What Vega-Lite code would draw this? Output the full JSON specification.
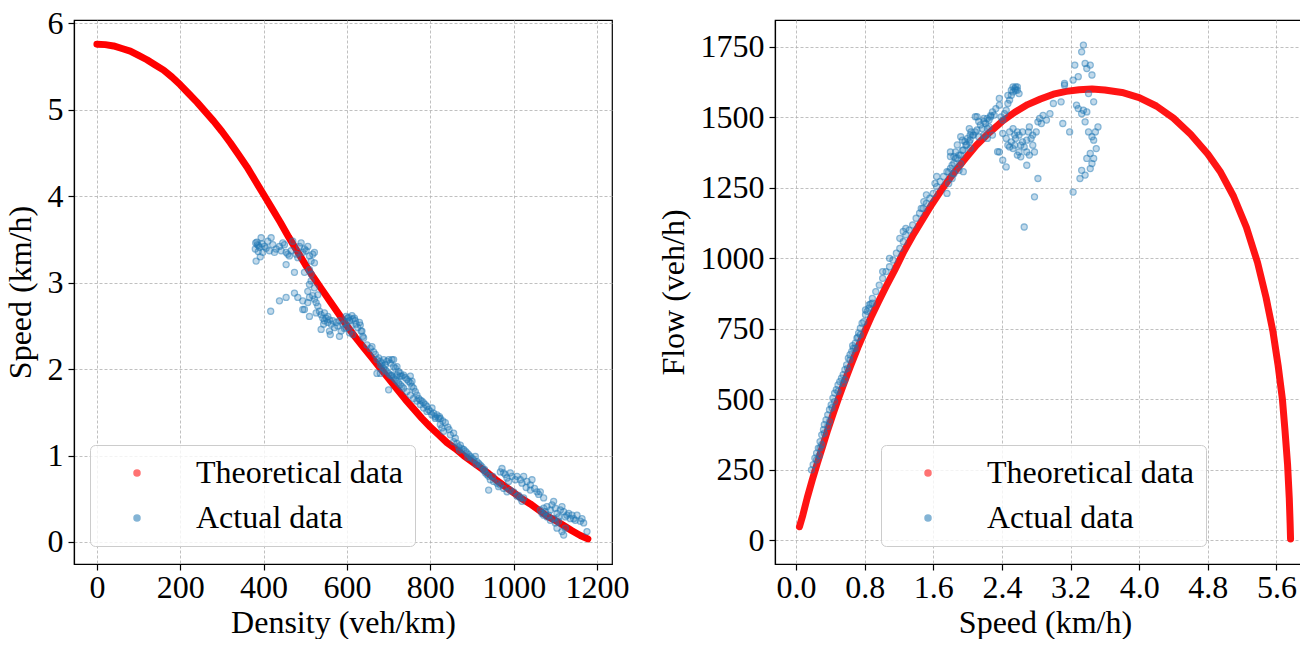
{
  "$schema": "https://vega.github.io/schema/vega-lite/v6.json",
  "background": "white",
  "padding": {"left": 3, "top": 6, "right": 0, "bottom": 0},
  "bounds": "flush",
  "spacing": 163,
  "config": {
    "font": "Liberation Serif",
    "view": {"stroke": "black", "strokeWidth": 1.2},
    "axis": {
      "labelFont": "Liberation Serif", "labelFontSize": 32, "labelColor": "black",
      "titleFont": "Liberation Serif", "titleFontSize": 32, "titleFontWeight": "normal", "titleColor": "black",
      "domainColor": "black", "domainWidth": 1.2, "tickColor": "black", "tickSize": 6, "tickWidth": 1.2,
      "gridColor": "#b0b0b0", "gridDash": [3, 2], "gridWidth": 0.8,
      "labelFlush": false, "labelOverlap": false
    },
    "axisX": {"labelPadding": 2, "titlePadding": 4},
    "axisY": {"labelPadding": 5, "titlePadding": 10},
    "legend": {
      "title": null, "labelFont": "Liberation Serif", "labelFontSize": 32, "labelColor": "black", "labelLimit": 400,
      "symbolType": "circle", "symbolSize": 36, "symbolStrokeWidth": 1.5, "padding": 12, "symbolOffset": 19, "labelOffset": 43, "rowPadding": 13,
      "fillColor": "rgba(255,255,255,0.8)", "strokeColor": "#cccccc", "cornerRadius": 5
    }
  },
  "resolve": {"scale": {"fill": "independent", "stroke": "independent"}, "legend": {"fill": "independent", "stroke": "independent"}},
  "datasets": {
    "leftTheory": [
      {"density":0,"speed":5.76},{"density":20,"speed":5.755},{"density":40,"speed":5.74},{"density":60,"speed":5.71},{"density":80,"speed":5.68},{"density":100,"speed":5.63},{"density":120,"speed":5.58},{"density":140,"speed":5.52},{"density":160,"speed":5.46},{"density":180,"speed":5.38},{"density":200,"speed":5.29},{"density":220,"speed":5.19},{"density":240,"speed":5.09},{"density":260,"speed":4.98},{"density":280,"speed":4.87},{"density":300,"speed":4.75},{"density":320,"speed":4.62},{"density":340,"speed":4.48},{"density":360,"speed":4.34},{"density":380,"speed":4.18},{"density":400,"speed":4.02},{"density":420,"speed":3.86},{"density":440,"speed":3.70},{"density":460,"speed":3.53},{"density":480,"speed":3.37},{"density":500,"speed":3.21},{"density":520,"speed":3.06},{"density":540,"speed":2.92},{"density":560,"speed":2.78},{"density":580,"speed":2.64},{"density":600,"speed":2.50},{"density":620,"speed":2.37},{"density":640,"speed":2.25},{"density":660,"speed":2.13},{"density":680,"speed":2.01},{"density":700,"speed":1.89},{"density":720,"speed":1.77},{"density":740,"speed":1.65},{"density":760,"speed":1.54},{"density":780,"speed":1.43},{"density":800,"speed":1.33},{"density":820,"speed":1.24},{"density":840,"speed":1.15},{"density":860,"speed":1.08},{"density":880,"speed":1.00},{"density":900,"speed":0.93},{"density":920,"speed":0.86},{"density":940,"speed":0.79},{"density":960,"speed":0.71},{"density":980,"speed":0.64},{"density":1000,"speed":0.57},{"density":1020,"speed":0.50},{"density":1040,"speed":0.44},{"density":1060,"speed":0.37},{"density":1080,"speed":0.30},{"density":1100,"speed":0.25},{"density":1120,"speed":0.19},{"density":1140,"speed":0.13},{"density":1160,"speed":0.075},{"density":1178,"speed":0.035}
    ],
    "leftActual": [
      {"density":381,"speed":3.46},{"density":385,"speed":3.44},{"density":380,"speed":3.39},{"density":390,"speed":3.41},{"density":394,"speed":3.52},{"density":398,"speed":3.35},{"density":402,"speed":3.42},{"density":410,"speed":3.48},{"density":414,"speed":3.37},{"density":418,"speed":3.52},{"density":422,"speed":3.44},{"density":426,"speed":3.35},{"density":430,"speed":3.39},{"density":438,"speed":3.42},{"density":442,"speed":3.37},{"density":446,"speed":3.46},{"density":450,"speed":3.44},{"density":454,"speed":3.35},{"density":458,"speed":3.33},{"density":462,"speed":3.31},{"density":466,"speed":3.37},{"density":470,"speed":3.48},{"density":478,"speed":3.33},{"density":482,"speed":3.29},{"density":486,"speed":3.42},{"density":490,"speed":3.46},{"density":494,"speed":3.35},{"density":498,"speed":3.39},{"density":502,"speed":3.37},{"density":506,"speed":3.42},{"density":510,"speed":3.31},{"density":514,"speed":3.25},{"density":518,"speed":3.33},{"density":522,"speed":3.35},{"density":522,"speed":3.23},{"density":382,"speed":3.25},{"density":454,"speed":3.21},{"density":474,"speed":3.12},{"density":498,"speed":3.12},{"density":510,"speed":3.15},{"density":514,"speed":3.10},{"density":384,"speed":3.47},{"density":388,"speed":3.43},{"density":396,"speed":3.45},{"density":406,"speed":3.40},{"density":392,"speed":3.30},{"density":387,"speed":3.36},
      {"density":417,"speed":2.67},{"density":438,"speed":2.79},{"density":454,"speed":2.83},{"density":474,"speed":2.88},{"density":482,"speed":2.83},{"density":494,"speed":2.79},{"density":498,"speed":2.69},{"density":506,"speed":2.90},{"density":510,"speed":2.98},{"density":510,"speed":2.83},{"density":514,"speed":3.02},{"density":518,"speed":2.85},{"density":522,"speed":2.81},{"density":526,"speed":2.77},{"density":530,"speed":2.73},{"density":534,"speed":2.67},{"density":538,"speed":2.63},{"density":542,"speed":2.59},{"density":546,"speed":2.56},{"density":550,"speed":2.59},{"density":554,"speed":2.54},{"density":558,"speed":2.57},{"density":562,"speed":2.52},{"density":566,"speed":2.56},{"density":574,"speed":2.54},{"density":578,"speed":2.50},{"density":582,"speed":2.56},{"density":538,"speed":2.46},{"density":558,"speed":2.44},{"density":582,"speed":2.38},{"density":530,"speed":2.86},{"density":522,"speed":2.94},{"density":506,"speed":2.77},{"density":494,"speed":2.69},{"density":526,"speed":2.65},{"density":510,"speed":2.61},{"density":546,"speed":2.65},{"density":554,"speed":2.61},
      {"density":598,"speed":2.61},{"density":602,"speed":2.59},{"density":606,"speed":2.56},{"density":614,"speed":2.58},{"density":618,"speed":2.59},{"density":622,"speed":2.52},{"density":626,"speed":2.48},{"density":630,"speed":2.54},{"density":634,"speed":2.44},{"density":638,"speed":2.38},{"density":598,"speed":2.48},{"density":606,"speed":2.42},{"density":614,"speed":2.40},{"density":590,"speed":2.52},{"density":594,"speed":2.47},{"density":610,"speed":2.50},{"density":600,"speed":2.55},{"density":604,"speed":2.60},{"density":612,"speed":2.62},{"density":620,"speed":2.56},{"density":570,"speed":2.48},{"density":586,"speed":2.44},{"density":544,"speed":2.52},{"density":560,"speed":2.40},
      {"density":632,"speed":2.51},{"density":636,"speed":2.44},{"density":640,"speed":2.36},{"density":648,"speed":2.28},{"density":656,"speed":2.24},{"density":660,"speed":2.26},{"density":664,"speed":2.20},{"density":668,"speed":2.17},{"density":672,"speed":2.11},{"density":676,"speed":2.13},{"density":680,"speed":2.09},{"density":684,"speed":2.07},{"density":688,"speed":2.11},{"density":692,"speed":2.05},{"density":696,"speed":2.09},{"density":700,"speed":2.11},{"density":704,"speed":2.07},{"density":708,"speed":2.11},{"density":712,"speed":2.11},{"density":712,"speed":2.03},{"density":716,"speed":2.01},{"density":720,"speed":2.03},{"density":724,"speed":1.97},{"density":728,"speed":1.95},{"density":732,"speed":1.92},{"density":736,"speed":1.93},{"density":740,"speed":1.90},{"density":744,"speed":1.88},{"density":748,"speed":1.86},{"density":752,"speed":1.84},{"density":752,"speed":1.92},{"density":756,"speed":1.80},{"density":760,"speed":1.78},{"density":764,"speed":1.74},{"density":768,"speed":1.70},{"density":772,"speed":1.66},{"density":776,"speed":1.64},{"density":780,"speed":1.63},{"density":784,"speed":1.61},{"density":788,"speed":1.59},{"density":792,"speed":1.57},{"density":796,"speed":1.53},{"density":800,"speed":1.51},{"density":804,"speed":1.55},{"density":808,"speed":1.49},{"density":812,"speed":1.45},{"density":816,"speed":1.47},{"density":820,"speed":1.43},
      {"density":700,"speed":1.76},{"density":672,"speed":1.95},{"density":680,"speed":1.95},{"density":756,"speed":1.86},{"density":708,"speed":1.93},{"density":720,"speed":1.93},{"density":728,"speed":1.92},
      {"density":680,"speed":2.05},{"density":684,"speed":2.03},{"density":688,"speed":2.01},{"density":692,"speed":1.99},{"density":696,"speed":1.97},{"density":700,"speed":1.95},{"density":704,"speed":1.93},{"density":708,"speed":1.92},{"density":712,"speed":1.90},{"density":716,"speed":1.88},{"density":720,"speed":1.86},{"density":724,"speed":1.84},{"density":728,"speed":1.82},{"density":732,"speed":1.80},{"density":736,"speed":1.78},{"density":744,"speed":1.74},{"density":752,"speed":1.70},{"density":760,"speed":1.66},{"density":768,"speed":1.63},{"density":776,"speed":1.59},{"density":784,"speed":1.55},{"density":792,"speed":1.51},{"density":804,"speed":1.47},{"density":812,"speed":1.43},
      {"density":822,"speed":1.45},{"density":830,"speed":1.40},{"density":836,"speed":1.38},{"density":842,"speed":1.33},{"density":845,"speed":1.30},
      {"density":824,"speed":1.43},{"density":824,"speed":1.36},{"density":828,"speed":1.32},{"density":832,"speed":1.28},{"density":848,"speed":1.24},{"density":856,"speed":1.26},{"density":860,"speed":1.20},{"density":856,"speed":1.16},{"density":864,"speed":1.14},{"density":868,"speed":1.10},{"density":872,"speed":1.12},{"density":876,"speed":1.08},{"density":880,"speed":1.07},{"density":884,"speed":1.05},{"density":888,"speed":1.03},{"density":892,"speed":1.01},{"density":896,"speed":0.99},{"density":900,"speed":0.97},{"density":904,"speed":0.95},{"density":908,"speed":0.99},{"density":912,"speed":0.93},{"density":916,"speed":0.91},{"density":920,"speed":0.89},{"density":924,"speed":0.87},{"density":928,"speed":0.83},{"density":932,"speed":0.80},{"density":936,"speed":0.78},{"density":940,"speed":0.76},{"density":944,"speed":0.72},{"density":940,"speed":0.60},{"density":952,"speed":0.70},{"density":960,"speed":0.68},{"density":964,"speed":0.64},{"density":968,"speed":0.81},{"density":972,"speed":0.85},{"density":976,"speed":0.80},{"density":980,"speed":0.78},{"density":984,"speed":0.74},{"density":988,"speed":0.70},{"density":992,"speed":0.80},{"density":996,"speed":0.76},{"density":1004,"speed":0.72},{"density":1008,"speed":0.76},{"density":1016,"speed":0.72},{"density":1020,"speed":0.68},{"density":1024,"speed":0.76},{"density":1032,"speed":0.70},{"density":1040,"speed":0.66},{"density":1044,"speed":0.72},{"density":1056,"speed":0.58},{"density":1064,"speed":0.58},{"density":1072,"speed":0.51},{"density":968,"speed":0.66},{"density":976,"speed":0.62},{"density":984,"speed":0.58},{"density":992,"speed":0.60},{"density":1000,"speed":0.58},{"density":1012,"speed":0.54},{"density":1016,"speed":0.51},{"density":1020,"speed":0.47},{"density":1024,"speed":0.51},{"density":1008,"speed":0.53},
      {"density":1064,"speed":0.37},{"density":1068,"speed":0.33},{"density":1072,"speed":0.39},{"density":1076,"speed":0.35},{"density":1080,"speed":0.41},{"density":1084,"speed":0.31},{"density":1088,"speed":0.37},{"density":1092,"speed":0.43},{"density":1096,"speed":0.47},{"density":1100,"speed":0.39},{"density":1104,"speed":0.33},{"density":1108,"speed":0.29},{"density":1112,"speed":0.37},{"density":1116,"speed":0.41},{"density":1120,"speed":0.35},{"density":1124,"speed":0.29},{"density":1128,"speed":0.31},{"density":1132,"speed":0.33},{"density":1136,"speed":0.27},{"density":1140,"speed":0.31},{"density":1144,"speed":0.27},{"density":1148,"speed":0.25},{"density":1152,"speed":0.31},{"density":1160,"speed":0.24},{"density":1164,"speed":0.27},{"density":1168,"speed":0.22},{"density":1176,"speed":0.12},{"density":1100,"speed":0.22},{"density":1104,"speed":0.16},{"density":1116,"speed":0.12},{"density":1120,"speed":0.08},{"density":1124,"speed":0.16},{"density":1088,"speed":0.25},{"density":1080,"speed":0.29},{"density":1072,"speed":0.31},{"density":1108,"speed":0.24},{"density":1096,"speed":0.27},
      {"density":870,"speed":1.06},{"density":890,"speed":0.98},{"density":910,"speed":0.90},{"density":930,"speed":0.84},{"density":950,"speed":0.76},{"density":1050,"speed":0.62},{"density":1060,"speed":0.55},{"density":1040,"speed":0.60},{"density":1030,"speed":0.63}
    ],
    "rightTheory": [
      {"speed":0.04,"flow":48},{"speed":0.08,"flow":90},{"speed":0.13,"flow":150},{"speed":0.19,"flow":215},{"speed":0.25,"flow":275},{"speed":0.31,"flow":333},{"speed":0.37,"flow":392},{"speed":0.44,"flow":455},{"speed":0.50,"flow":508},{"speed":0.57,"flow":566},{"speed":0.64,"flow":622},{"speed":0.72,"flow":683},{"speed":0.80,"flow":740},{"speed":0.88,"flow":795},{"speed":0.96,"flow":845},{"speed":1.05,"flow":900},{"speed":1.15,"flow":958},{"speed":1.25,"flow":1020},{"speed":1.36,"flow":1080},{"speed":1.47,"flow":1135},{"speed":1.58,"flow":1190},{"speed":1.70,"flow":1245},{"speed":1.82,"flow":1295},{"speed":1.95,"flow":1345},{"speed":2.10,"flow":1400},{"speed":2.25,"flow":1445},{"speed":2.40,"flow":1485},{"speed":2.55,"flow":1518},{"speed":2.70,"flow":1545},{"speed":2.85,"flow":1565},{"speed":3.00,"flow":1582},{"speed":3.15,"flow":1592},{"speed":3.30,"flow":1598},{"speed":3.45,"flow":1600},{"speed":3.60,"flow":1597},{"speed":3.80,"flow":1588},{"speed":4.00,"flow":1570},{"speed":4.20,"flow":1540},{"speed":4.40,"flow":1497},{"speed":4.60,"flow":1440},{"speed":4.80,"flow":1370},{"speed":4.95,"flow":1305},{"speed":5.10,"flow":1220},{"speed":5.25,"flow":1110},{"speed":5.38,"flow":985},{"speed":5.48,"flow":860},{"speed":5.56,"flow":740},{"speed":5.62,"flow":620},{"speed":5.67,"flow":500},{"speed":5.70,"flow":390},{"speed":5.73,"flow":270},{"speed":5.75,"flow":150},{"speed":5.76,"flow":60},{"speed":5.765,"flow":5}
    ],
    "rightActual": [
      {"speed":0.20,"flow":268},{"speed":0.22,"flow":291},{"speed":0.24,"flow":309},{"speed":0.26,"flow":327},{"speed":0.28,"flow":350},{"speed":0.30,"flow":374},{"speed":0.32,"flow":392},{"speed":0.33,"flow":410},{"speed":0.35,"flow":427},{"speed":0.37,"flow":445},{"speed":0.39,"flow":463},{"speed":0.41,"flow":480},{"speed":0.43,"flow":504},{"speed":0.45,"flow":522},{"speed":0.47,"flow":534},{"speed":0.49,"flow":551},{"speed":0.51,"flow":563},{"speed":0.53,"flow":575},{"speed":0.55,"flow":587},{"speed":0.57,"flow":605},{"speed":0.59,"flow":622},{"speed":0.61,"flow":646},{"speed":0.63,"flow":658},{"speed":0.65,"flow":670},{"speed":0.67,"flow":681},{"speed":0.69,"flow":699},{"speed":0.71,"flow":717},{"speed":0.73,"flow":735},{"speed":0.75,"flow":752},{"speed":0.77,"flow":770},{"speed":0.81,"flow":800},{"speed":0.85,"flow":823},{"speed":0.89,"flow":841},
      {"speed":0.57,"flow":569},{"speed":0.28,"flow":327},{"speed":0.30,"flow":339},{"speed":0.33,"flow":380},{"speed":0.37,"flow":404},{"speed":0.39,"flow":421},{"speed":0.45,"flow":492},{"speed":0.49,"flow":528},{"speed":0.55,"flow":557},{"speed":0.63,"flow":640},{"speed":0.69,"flow":681},{"speed":0.75,"flow":729},{"speed":0.18,"flow":250},{"speed":0.24,"flow":285},{"speed":0.27,"flow":300},{"speed":0.42,"flow":470},{"speed":0.60,"flow":610},{"speed":0.66,"flow":690},{"speed":0.72,"flow":720},{"speed":0.79,"flow":775},{"speed":0.83,"flow":812},{"speed":0.87,"flow":838},
      {"speed":0.81,"flow":817},{"speed":0.85,"flow":835},{"speed":0.89,"flow":858},{"speed":0.93,"flow":882},{"speed":0.97,"flow":905},{"speed":1.01,"flow":929},{"speed":1.05,"flow":953},{"speed":1.09,"flow":970},{"speed":1.13,"flow":994},{"speed":1.17,"flow":1018},{"speed":1.21,"flow":1035},{"speed":1.25,"flow":1059},{"speed":1.28,"flow":1083},{"speed":1.32,"flow":1100},{"speed":1.36,"flow":1118},{"speed":1.40,"flow":1142},{"speed":1.44,"flow":1160},{"speed":1.48,"flow":1177},{"speed":1.52,"flow":1195},{"speed":1.56,"flow":1213},{"speed":1.60,"flow":1230},{"speed":1.64,"flow":1254},{"speed":1.68,"flow":1272},{"speed":1.72,"flow":1290},{"speed":1.76,"flow":1307},{"speed":1.80,"flow":1319},{"speed":1.84,"flow":1337},{"speed":1.88,"flow":1355},{"speed":1.92,"flow":1366},{"speed":1.95,"flow":1384},{"speed":1.99,"flow":1402},{"speed":2.03,"flow":1420},{"speed":2.07,"flow":1437},{"speed":2.11,"flow":1455},{"speed":2.15,"flow":1473},{"speed":2.19,"flow":1485},{"speed":2.23,"flow":1496},{"speed":2.27,"flow":1502},{"speed":2.31,"flow":1508},
      {"speed":1.84,"flow":1361},{"speed":1.92,"flow":1431},{"speed":1.97,"flow":1414},{"speed":2.03,"flow":1390},{"speed":1.95,"flow":1307},{"speed":1.76,"flow":1230},{"speed":1.62,"flow":1266},{"speed":1.49,"flow":1201},{"speed":1.46,"flow":1177},{"speed":1.28,"flow":1106},{"speed":1.21,"flow":1071},{"speed":1.25,"flow":1095},{"speed":1.09,"flow":1000},{"speed":1.01,"flow":953},{"speed":1.52,"flow":1225},{"speed":2.11,"flow":1502},{"speed":2.13,"flow":1485},{"speed":2.19,"flow":1437},{"speed":2.23,"flow":1461},{"speed":2.35,"flow":1378},{"speed":2.03,"flow":1437},{"speed":1.88,"flow":1402},{"speed":1.80,"flow":1361},{"speed":1.64,"flow":1290},
      {"speed":1.78,"flow":1306},{"speed":1.82,"flow":1330},{"speed":1.86,"flow":1354},{"speed":1.90,"flow":1366},{"speed":1.94,"flow":1383},{"speed":1.98,"flow":1401},{"speed":2.00,"flow":1425},{"speed":2.02,"flow":1413},{"speed":2.06,"flow":1437},{"speed":2.09,"flow":1448},{"speed":2.13,"flow":1431},{"speed":2.17,"flow":1460},{"speed":2.21,"flow":1478},{"speed":2.25,"flow":1490},{"speed":2.27,"flow":1507},{"speed":2.29,"flow":1519},{"speed":2.33,"flow":1531},{"speed":2.37,"flow":1543},{"speed":2.39,"flow":1501},{"speed":2.41,"flow":1490},{"speed":2.43,"flow":1513},{"speed":2.45,"flow":1525},{"speed":2.47,"flow":1549},{"speed":2.49,"flow":1561},{"speed":2.51,"flow":1578},{"speed":2.53,"flow":1590},{"speed":2.55,"flow":1602},{"speed":2.56,"flow":1608},{"speed":2.58,"flow":1596},{"speed":2.60,"flow":1584},{"speed":2.51,"flow":1596},{"speed":2.53,"flow":1608},
      {"speed":2.09,"flow":1502},{"speed":1.94,"flow":1419},{"speed":1.86,"flow":1377},{"speed":2.04,"flow":1448},{"speed":2.19,"flow":1496},{"speed":2.25,"flow":1466},{"speed":2.29,"flow":1437},{"speed":1.78,"flow":1265},{"speed":1.82,"flow":1283},{"speed":1.80,"flow":1377},{"speed":2.02,"flow":1460},{"speed":2.23,"flow":1425},{"speed":1.84,"flow":1300},{"speed":1.90,"flow":1312},{"speed":1.92,"flow":1336},
      {"speed":2.41,"flow":1443},{"speed":2.45,"flow":1425},{"speed":2.47,"flow":1401},{"speed":2.49,"flow":1395},{"speed":2.51,"flow":1413},{"speed":2.53,"flow":1389},{"speed":2.55,"flow":1401},{"speed":2.56,"flow":1425},{"speed":2.58,"flow":1448},{"speed":2.60,"flow":1437},{"speed":2.62,"flow":1401},{"speed":2.64,"flow":1413},{"speed":2.66,"flow":1395},{"speed":2.69,"flow":1419},{"speed":2.71,"flow":1448},{"speed":2.72,"flow":1466},{"speed":2.74,"flow":1425},{"speed":2.76,"flow":1401},{"speed":2.78,"flow":1377},{"speed":2.80,"flow":1448},{"speed":2.82,"flow":1484},{"speed":2.84,"flow":1496},{"speed":2.86,"flow":1478},{"speed":2.88,"flow":1507},{"speed":2.92,"flow":1490},{"speed":2.96,"flow":1513},{"speed":2.49,"flow":1448},{"speed":2.53,"flow":1460},{"speed":2.55,"flow":1437},{"speed":2.60,"flow":1377},{"speed":2.69,"flow":1377},{"speed":2.37,"flow":1377},{"speed":2.41,"flow":1348},{"speed":2.45,"flow":1324},{"speed":2.69,"flow":1330},{"speed":2.82,"flow":1283},{"speed":2.78,"flow":1218},{"speed":2.66,"flow":1111},{"speed":2.58,"flow":1366},{"speed":2.62,"flow":1360},{"speed":2.72,"flow":1366},{"speed":2.76,"flow":1437},{"speed":2.64,"flow":1448},
      {"speed":2.37,"flow":1567},{"speed":2.47,"flow":1578},{"speed":2.56,"flow":1596},{"speed":2.58,"flow":1608},
      {"speed":3.00,"flow":1549},{"speed":3.09,"flow":1555},{"speed":3.13,"flow":1614},{"speed":3.23,"flow":1632},{"speed":3.25,"flow":1685},{"speed":3.29,"flow":1644},{"speed":3.33,"flow":1732},{"speed":3.35,"flow":1756},{"speed":3.37,"flow":1691},{"speed":3.39,"flow":1673},{"speed":3.43,"flow":1685},{"speed":3.45,"flow":1650},{"speed":3.47,"flow":1555},{"speed":3.41,"flow":1584},{"speed":3.27,"flow":1543},{"speed":3.29,"flow":1531},{"speed":3.33,"flow":1513},{"speed":3.37,"flow":1484},{"speed":3.41,"flow":1448},{"speed":3.45,"flow":1431},{"speed":3.49,"flow":1448},{"speed":3.52,"flow":1466},{"speed":3.50,"flow":1389},{"speed":3.43,"flow":1372},{"speed":3.47,"flow":1354},{"speed":3.39,"flow":1354},{"speed":3.45,"flow":1336},{"speed":3.43,"flow":1318},{"speed":3.33,"flow":1312},{"speed":3.37,"flow":1295},{"speed":3.31,"flow":1283},{"speed":3.23,"flow":1235},{"speed":3.13,"flow":1620},{"speed":3.19,"flow":1448},{"speed":3.11,"flow":1478},{"speed":3.39,"flow":1519},{"speed":3.35,"flow":1525},{"speed":3.47,"flow":1419}
    ]
  },
  "hconcat": [
    {
      "width": 538,
      "height": 544,
      "layer": [
        {
          "data": {"name": "leftTheory"},
          "mark": {"type": "line", "color": "#ff0000", "strokeWidth": 7, "strokeCap": "round", "strokeJoin": "round"},
          "encoding": {
            "x": {"field": "density", "type": "quantitative", "scale": {"domain": [-55, 1236], "nice": false, "zero": false}, "axis": {"values": [0, 200, 400, 600, 800, 1000, 1200], "format": "d", "title": "Density (veh/km)"}},
            "y": {"field": "speed", "type": "quantitative", "scale": {"domain": [-0.255, 6.04], "nice": false, "zero": false}, "axis": {"values": [0, 1, 2, 3, 4, 5, 6], "format": "d", "title": "Speed (km/h)"}}
          }
        },
        {
          "data": {"name": "leftActual"},
          "mark": {"type": "point", "filled": true, "size": 36, "opacity": 0.55, "fillOpacity": 0.5, "strokeWidth": 1.3},
          "encoding": {
            "x": {"field": "density", "type": "quantitative"},
            "y": {"field": "speed", "type": "quantitative"},
            "fill": {
              "datum": "Actual data", "type": "nominal",
              "scale": {"domain": ["Theoretical data", "Actual data"], "range": ["#ff0000", "#1f77b4"]},
              "legend": {"orient": "none", "legendX": 16, "legendY": 425}
            },
            "stroke": {
              "datum": "Actual data", "type": "nominal",
              "scale": {"domain": ["Theoretical data", "Actual data"], "range": ["#ff0000", "#1f77b4"]},
              "legend": {"orient": "none", "legendX": 16, "legendY": 425}
            }
          }
        }
      ]
    },
    {
      "width": 540,
      "height": 544,
      "layer": [
        {
          "data": {"name": "rightTheory"},
          "mark": {"type": "line", "color": "#ff0000", "strokeWidth": 7, "strokeCap": "round", "strokeJoin": "round", "opacity": 0.92},
          "encoding": {
            "x": {"field": "speed", "type": "quantitative", "scale": {"domain": [-0.245, 6.05], "nice": false, "zero": false}, "axis": {"values": [0, 0.8, 1.6, 2.4, 3.2, 4.0, 4.8, 5.6], "format": ".1f", "title": "Speed (km/h)"}},
            "y": {"field": "flow", "type": "quantitative", "scale": {"domain": [-84, 1845], "nice": false, "zero": false}, "axis": {"values": [0, 250, 500, 750, 1000, 1250, 1500, 1750], "format": "d", "title": "Flow (veh/h)"}}
          }
        },
        {
          "data": {"name": "rightActual"},
          "mark": {"type": "point", "filled": true, "size": 36, "opacity": 0.55, "fillOpacity": 0.5, "strokeWidth": 1.3},
          "encoding": {
            "x": {"field": "speed", "type": "quantitative"},
            "y": {"field": "flow", "type": "quantitative"},
            "fill": {
              "datum": "Actual data", "type": "nominal",
              "scale": {"domain": ["Theoretical data", "Actual data"], "range": ["#ff0000", "#1f77b4"]},
              "legend": {"orient": "none", "legendX": 106, "legendY": 425}
            },
            "stroke": {
              "datum": "Actual data", "type": "nominal",
              "scale": {"domain": ["Theoretical data", "Actual data"], "range": ["#ff0000", "#1f77b4"]},
              "legend": {"orient": "none", "legendX": 106, "legendY": 425}
            }
          }
        }
      ]
    }
  ]
}
